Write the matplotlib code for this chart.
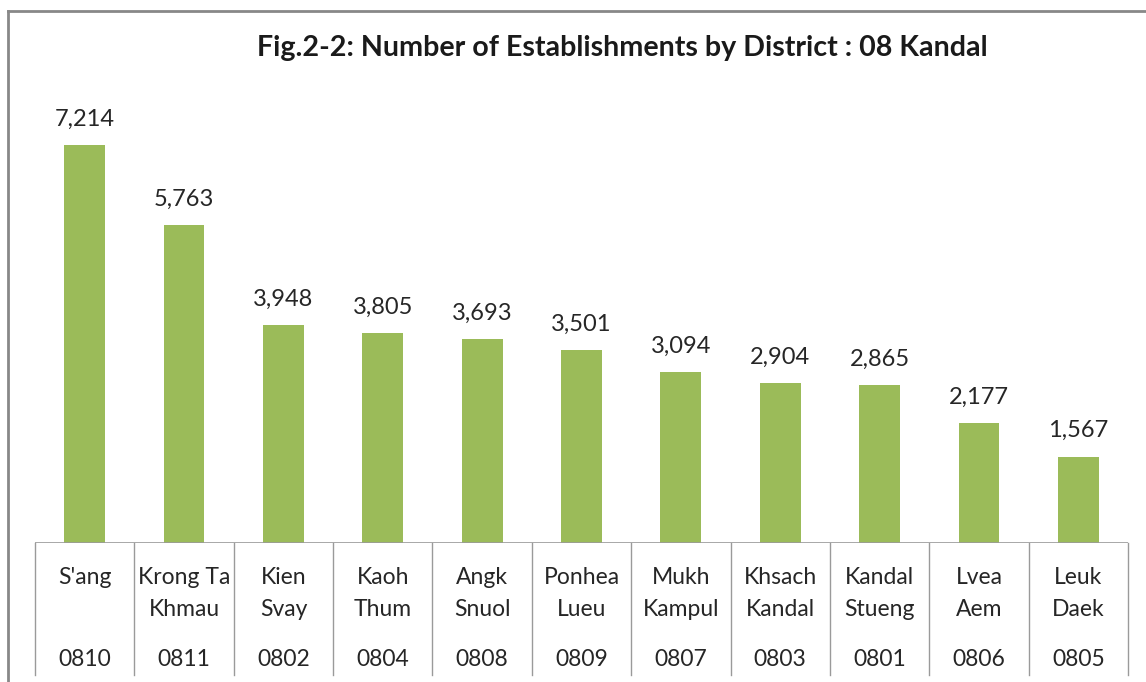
import numpy as np
import matplotlib.pyplot as plt
from matplotlib.lines import Line2D

# data
districts = ["S'ang", "Krong Ta\nKhmau", "Kien\nSvay", "Kaoh\nThum", "Angk\nSnuol",
             "Ponhea\nLueu", "Mukh\nKampul", "Khsach\nKandal", "Kandal\nStueng",
             "Lvea\nAem", "Leuk\nDaek"]
codes = ["0810", "0811", "0802", "0804", "0808", "0809", "0807", "0803", "0801", "0806", "0805"]
counts = [7214, 5763, 3948, 3805, 3693, 3501, 3094, 2904, 2865, 2177, 1567]

plt.rcParams['font.family'] = ['Lato', 'DejaVu Sans']
txt_col = '#262626'
grid_col = '#9a9a9a'

fig = plt.figure(figsize=(11.46, 6.82), dpi=100)
ax = fig.add_axes([35/1146, 1 - 543/682, 1093/1146, 441/682])

x = np.arange(len(counts))
ax.bar(x, counts, width=0.41, color='#9BBB59')
ax.set_xlim(-0.5, len(counts) - 0.5)
ax.set_ylim(0, 8000)

for xi, v in zip(x, counts):
    ax.annotate(f"{v:,}", xy=(xi, v), xytext=(0, 26), textcoords='offset pixels',
                ha='center', va='center', fontsize=17, color=txt_col)

# table under the bars
for xi, name, code in zip(x, districts, codes):
    for k, line in enumerate(name.split("\n")):
        ax.annotate(line, xy=(xi, 0), xycoords=('data', 'axes fraction'),
                    xytext=(0, -35 - 31*k), textcoords='offset pixels',
                    ha='center', va='center', fontsize=16.5, color=txt_col)
    ax.annotate(code, xy=(xi, 0), xycoords=('data', 'axes fraction'),
                xytext=(0, -117), textcoords='offset pixels',
                ha='center', va='center', fontsize=16.5, color=txt_col)

for b in np.arange(-0.5, len(counts), 1.0):
    ax.axvline(b, ymin=-132/441, ymax=0, clip_on=False, color=grid_col, lw=1)
ax.axhline(0, color=grid_col, lw=1.2)

for s in ax.spines.values():
    s.set_visible(False)
ax.set_xticks([])
ax.set_yticks([])

fig.text(622/1146, 1 - 48/682, "Fig.2-2: Number of Establishments by District : 08 Kandal",
         ha='center', va='center', fontsize=20.6, fontweight='bold', color='#1a1a1a')

# outer chart frame (cropped on the right and bottom)
fig.add_artist(Line2D([8/1146, 8/1146], [0, 1 - 11/682], transform=fig.transFigure,
                      color='#888888', lw=2))
fig.add_artist(Line2D([8/1146, 1], [1 - 11/682, 1 - 11/682], transform=fig.transFigure,
                      color='#888888', lw=2))

fig.savefig("out.png", dpi=100)
